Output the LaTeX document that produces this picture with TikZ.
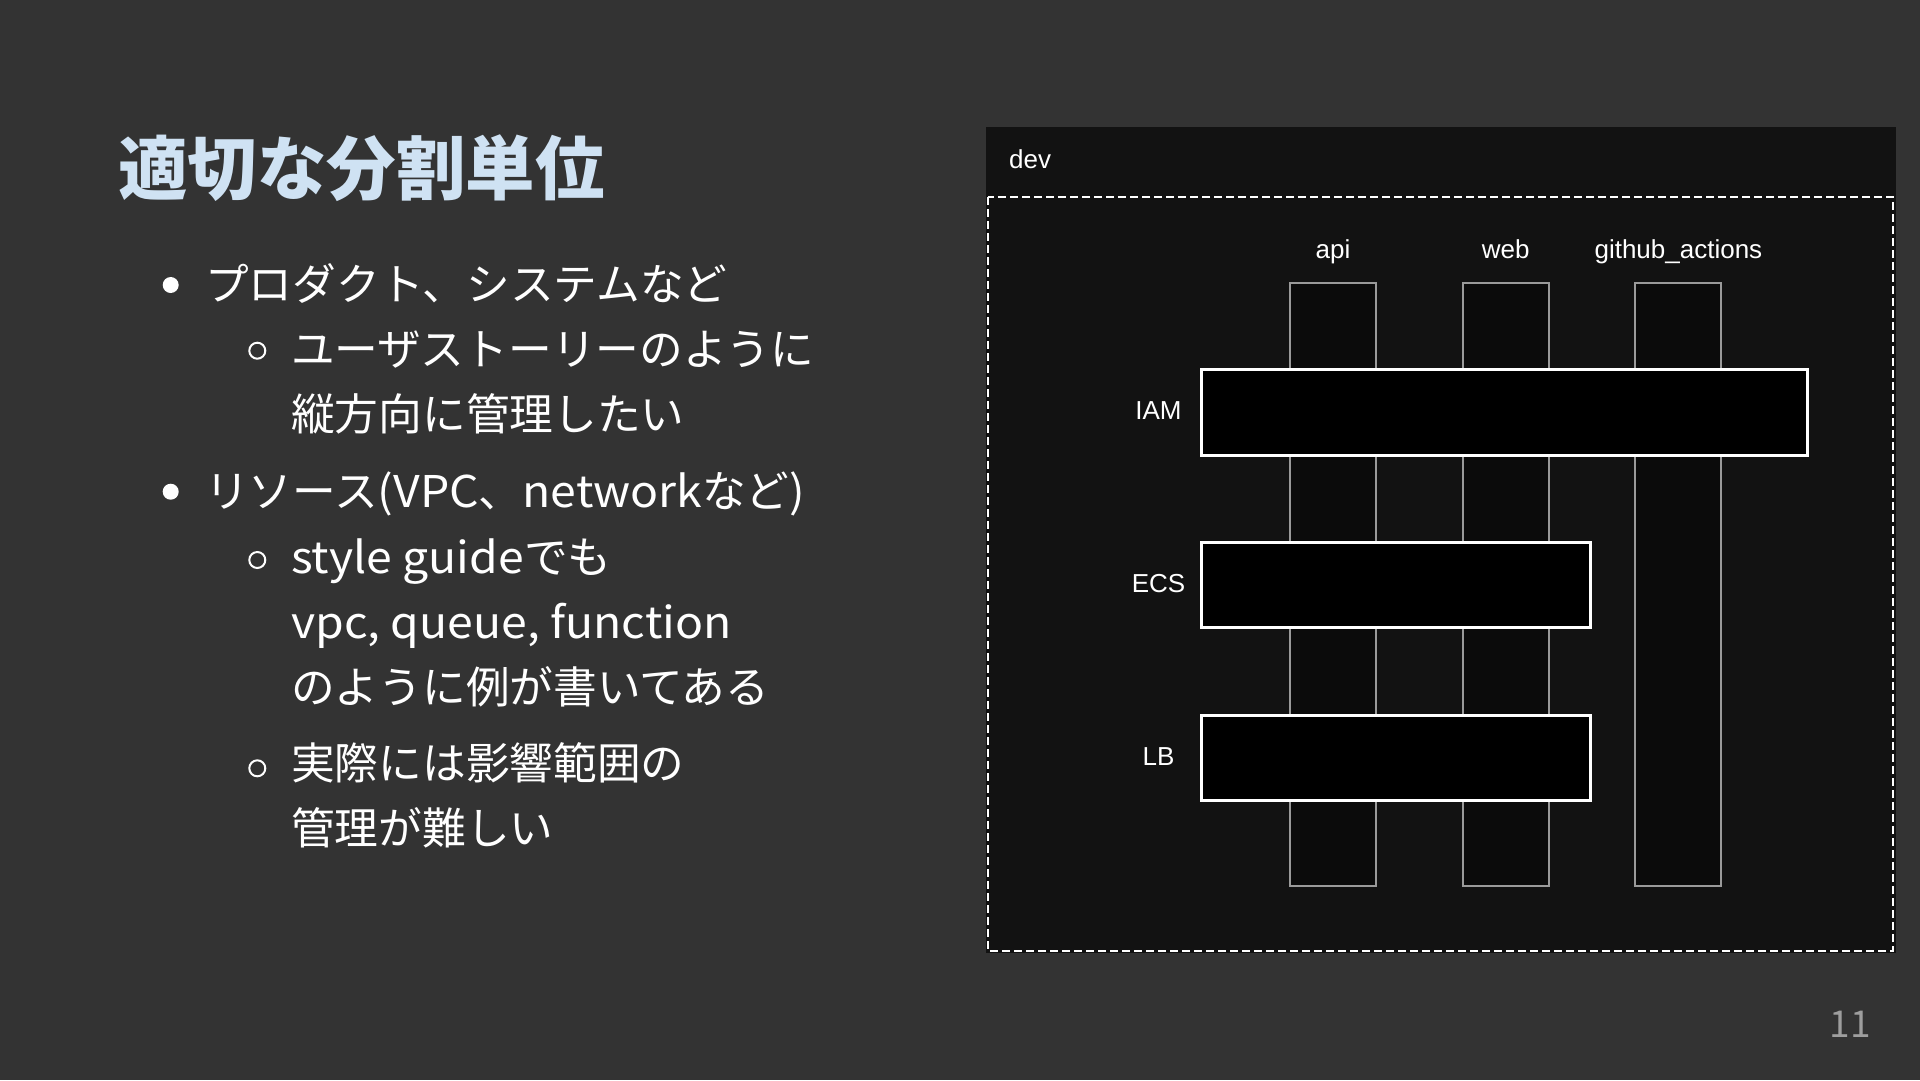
\documentclass[tikz,border=0pt]{standalone}
\usepackage{fontspec}
\setmainfont{Noto Sans CJK JP}
\newfontfamily\latfont{Noto Sans CJK JP}[FakeStretch=1.06]
\newfontfamily\diafont{Liberation Sans}
\newcommand\lat[1]{{\latfont #1}}
\usetikzlibrary{positioning}

\definecolor{slidebg}{HTML}{333333}
\definecolor{panelbg}{HTML}{121212}
\definecolor{colfill}{HTML}{0B0B0B}
\definecolor{colline}{HTML}{9A9A9A}
\definecolor{titleblue}{HTML}{CFE2F3}
\definecolor{pagegray}{HTML}{9E9E9E}

\tikzset{
    titletext/.style={anchor=base west, inner sep=0, text=titleblue, font=\fontsize{69.5}{80}\selectfont\bfseries},
    bodytext/.style={anchor=base west, inner sep=0, text=white, font=\fontsize{43.7}{50}\selectfont},
    diatext/.style={inner sep=0, text=white, font=\diafont\fontsize{26}{30}\selectfont},
    column/.style={fill=colfill, draw=colline, line width=2pt},
    layer/.style={fill=black, draw=white, line width=3pt},
    pagenum/.style={anchor=base east, inner sep=0, text=pagegray, font=\fontsize{37}{42}\selectfont}
}

\begin{document}
\begin{tikzpicture}[x=1pt, y=-1pt]
    \useasboundingbox (0,0) rectangle (1920,1080);
    \fill[slidebg] (0,0) rectangle (1920,1080);

    % Title
    \node[titletext] (title) at (118,194) {適切な分割単位};

    % Bullet list
    \fill[white] (170.7,285) circle (8);
    \node[bodytext] (prod) at (205,300) {プロダクト、システムなど};
    \draw[white, line width=2pt] (257.3,350.7) circle (8);
    \node[bodytext] (story1) at (291,365.5) {ユーザストーリーのように};
    \node[bodytext] (story2) at (291,430.5) {縦方向に管理したい};

    \fill[white] (170.7,491.7) circle (8);
    \node[bodytext] (res) at (205,507) {リソース\lat{(VPC}、\lat{network}など\lat{)}};
    \draw[white, line width=2pt] (257.3,560) circle (8);
    \node[bodytext] (guide1) at (291,573) {\lat{style guide}でも};
    \node[bodytext] (guide2) at (291,638) {\lat{vpc, queue, function}};
    \node[bodytext] (guide3) at (291,703) {のように例が書いてある};
    \draw[white, line width=2pt] (257.3,768.3) circle (8);
    \node[bodytext] (real1) at (291,779.5) {実際には影響範囲の};
    \node[bodytext] (real2) at (291,844.5) {管理が難しい};

    % Diagram panel
    \fill[panelbg] (986,127) rectangle (1896,953);
    \draw[white, line width=2pt, dash pattern=on 8pt off 4pt] (988,197) rectangle (1893,951);
    \node[diatext, anchor=base west] (dev) at (1009,168) {dev};

    % Columns
    \foreach \x/\lbl/\name in {1290/api/api, 1462.7/web/web, 1635.4/github\_actions/gh} {
        \filldraw[column] (\x,283.3) rectangle (\x+86,886);
        \node[diatext, anchor=base] (\name) at (\x+43,258) {\lbl};
    }

    % Layers
    \filldraw[layer] (1201.5,369.8) rectangle (1807,455.2);
    \node[diatext] (iam) at (1158.5,411) {IAM};
    \filldraw[layer] (1201.5,542.5) rectangle (1590.5,627.9);
    \node[diatext] (ecs) at (1158.5,583.7) {ECS};
    \filldraw[layer] (1201.5,715.2) rectangle (1590.5,800.6);
    \node[diatext] (lb) at (1158.5,756.4) {LB};

    % Page number
    \node[pagenum] (page) at (1871,1037) {11};
\end{tikzpicture}
\end{document}
